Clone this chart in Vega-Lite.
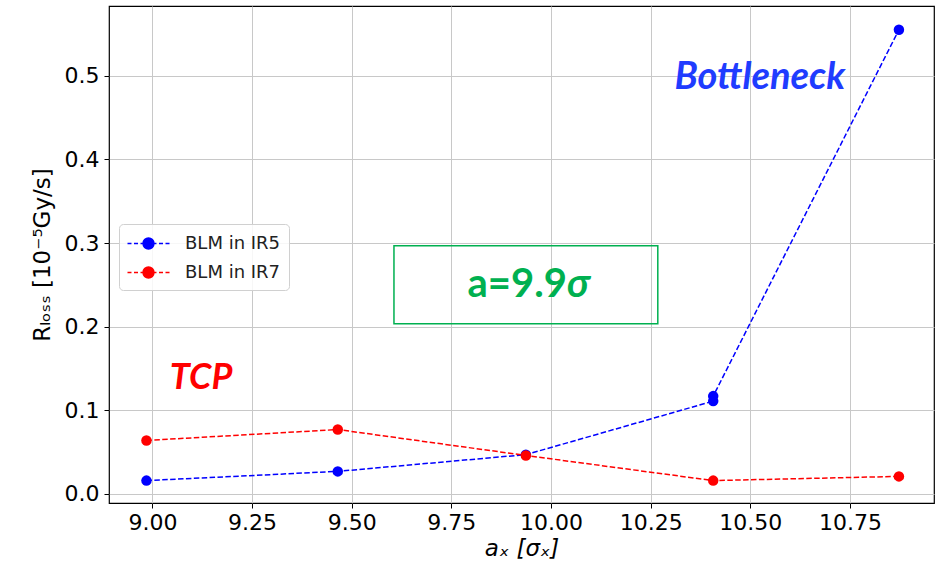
{
  "$schema": "https://vega.github.io/schema/vega-lite/v6.json",
  "autosize": {"type": "none"},
  "padding": {"left": 109, "top": 6, "right": 9, "bottom": 67},
  "width": 825,
  "height": 497,
  "background": "white",
  "config": {
    "view": {"stroke": "#000000", "strokeWidth": 1.2},
    "axis": {
      "labelFont": "DejaVu Sans",
      "titleFont": "DejaVu Sans",
      "labelFontSize": 22,
      "titleFontSize": 23,
      "titleFontWeight": "normal",
      "labelColor": "#000000",
      "titleColor": "#000000",
      "tickColor": "#000000",
      "tickSize": 5,
      "tickWidth": 1,
      "domain": false,
      "gridColor": "#c8c8c8",
      "gridWidth": 1
    }
  },
  "datasets": {
    "series": [
      {"i": 1, "ax": 8.985, "r": 0.016, "s": "BLM in IR5"},
      {"i": 2, "ax": 9.465, "r": 0.027, "s": "BLM in IR5"},
      {"i": 3, "ax": 9.937, "r": 0.047, "s": "BLM in IR5"},
      {"i": 4, "ax": 10.407, "r": 0.111, "s": "BLM in IR5"},
      {"i": 5, "ax": 10.407, "r": 0.117, "s": "BLM in IR5"},
      {"i": 6, "ax": 10.873, "r": 0.555, "s": "BLM in IR5"},
      {"i": 1, "ax": 8.985, "r": 0.064, "s": "BLM in IR7"},
      {"i": 2, "ax": 9.465, "r": 0.077, "s": "BLM in IR7"},
      {"i": 3, "ax": 9.937, "r": 0.046, "s": "BLM in IR7"},
      {"i": 4, "ax": 10.407, "r": 0.016, "s": "BLM in IR7"},
      {"i": 5, "ax": 10.873, "r": 0.021, "s": "BLM in IR7"}
    ],
    "box": [{"x1": 9.606, "x2": 10.268, "y1": 0.2035, "y2": 0.2967}],
    "labels": [
      {"x": 10.524, "y": 0.497, "t": "Bottleneck", "c": "#1f3cff", "fs": 38},
      {"x": 9.122, "y": 0.139, "t": "TCP", "c": "#ff0000", "fs": 36}
    ],
    "boxtext": [{"x": 10.04, "y": 0.25, "a": "a=9.9", "b": "σ"}]
  },
  "layer": [
    {
      "data": {"name": "series"},
      "mark": {"type": "line", "strokeDash": [5.5, 2.4], "strokeWidth": 1.5},
      "encoding": {
        "x": {
          "field": "ax", "type": "quantitative",
          "scale": {"domain": [8.891, 10.961], "nice": false, "zero": false},
          "axis": {"values": [9, 9.25, 9.5, 9.75, 10, 10.25, 10.5, 10.75], "format": ".2f", "title": "aₓ [σₓ]", "titleFontStyle": "italic", "titlePadding": 4, "labelPadding": 4}
        },
        "y": {
          "field": "r", "type": "quantitative",
          "scale": {"domain": [-0.0108, 0.5834], "nice": false, "zero": false},
          "axis": {"values": [0, 0.1, 0.2, 0.3, 0.4, 0.5], "format": ".1f", "title": "Rₗₒₛₛ [10⁻⁵Gy/s]", "titlePadding": 10, "labelPadding": 5}
        },
        "color": {
          "field": "s", "type": "nominal",
          "scale": {"domain": ["BLM in IR5", "BLM in IR7"], "range": ["#0000ff", "#ff0000"]},
          "legend": {
            "title": null,
            "orient": "none",
            "legendX": 10,
            "legendY": 218,
            "labelFont": "DejaVu Sans",
            "labelFontSize": 18,
            "labelColor": "#222222",
            "padding": 8,
            "rowPadding": 8,
            "symbolOffset": 10,
            "labelOffset": 25,
            "symbolSize": 441,
            "symbolStrokeWidth": 1.5,
            "symbolType": "M-2,0H-1.62M-1.38,0H-1M-0.76,0H-0.5M0.5,0H0.76M1,0H1.38M1.62,0H2M-0.52,0A0.52,0.52,0,1,1,0.52,0A0.52,0.52,0,1,1,-0.52,0Z",
            "fillColor": "rgba(255,255,255,0.85)",
            "strokeColor": "#d0d0d0",
            "cornerRadius": 4,
            "encode": {
              "symbols": {
                "update": {
                  "fill": {"scale": "color", "field": "value"},
                  "stroke": {"scale": "color", "field": "value"},
                  "fillOpacity": {"value": 1}
                }
              }
            }
          }
        },
        "order": {"field": "i", "type": "quantitative"}
      }
    },
    {
      "data": {"name": "series"},
      "mark": {"type": "circle", "size": 110, "opacity": 1},
      "encoding": {
        "x": {"field": "ax", "type": "quantitative"},
        "y": {"field": "r", "type": "quantitative"},
        "color": {"field": "s", "type": "nominal", "legend": null}
      }
    },
    {
      "data": {"name": "box"},
      "mark": {"type": "rect", "fill": null, "stroke": "#00b050", "strokeWidth": 1.5},
      "encoding": {
        "x": {"field": "x1", "type": "quantitative"},
        "x2": {"field": "x2"},
        "y": {"field": "y1", "type": "quantitative"},
        "y2": {"field": "y2"}
      }
    },
    {
      "data": {"name": "boxtext"},
      "mark": {"type": "text", "font": "Lato", "fontWeight": "bold", "fontSize": 40, "color": "#00b050", "align": "right", "baseline": "middle"},
      "encoding": {
        "x": {"field": "x", "type": "quantitative"},
        "y": {"field": "y", "type": "quantitative"},
        "text": {"field": "a"}
      }
    },
    {
      "data": {"name": "boxtext"},
      "mark": {"type": "text", "font": "Lato", "fontWeight": "bold", "fontStyle": "italic", "fontSize": 40, "color": "#00b050", "align": "left", "baseline": "middle"},
      "encoding": {
        "x": {"field": "x", "type": "quantitative"},
        "y": {"field": "y", "type": "quantitative"},
        "text": {"field": "b"}
      }
    },
    {
      "data": {"name": "labels"},
      "mark": {"type": "text", "font": "Lato", "fontWeight": "bold", "fontStyle": "italic", "align": "center", "baseline": "middle"},
      "encoding": {
        "x": {"field": "x", "type": "quantitative"},
        "y": {"field": "y", "type": "quantitative"},
        "text": {"field": "t"},
        "size": {"field": "fs", "type": "quantitative", "scale": null},
        "color": {"field": "c", "type": "nominal", "scale": null}
      }
    }
  ]
}
